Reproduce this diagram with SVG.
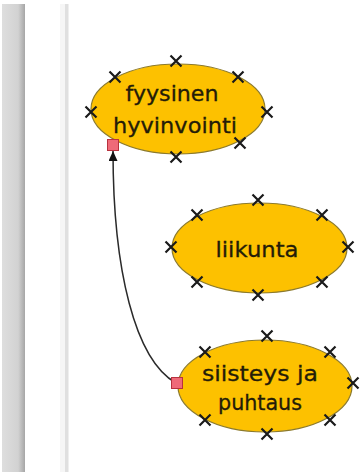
<svg xmlns="http://www.w3.org/2000/svg" width="364" height="472" viewBox="0 0 364 472">
<defs>
<linearGradient id="side" x1="0" y1="0" x2="1" y2="0">
<stop offset="0" stop-color="#dedede"/>
<stop offset="0.7" stop-color="#d2d2d2"/>
<stop offset="1" stop-color="#a6a6a6"/>
</linearGradient>
<marker id="arr" markerWidth="10" markerHeight="11" refX="10" refY="4.5" orient="auto" markerUnits="userSpaceOnUse">
<path d="M0,0 L10,4.5 L0,9 Z" fill="#111"/>
</marker>
<g id="x"><path d="M-5.5,-5.5 L5.5,5.5 M-5.5,5.5 L5.5,-5.5" stroke="#1a1a1a" stroke-width="2.2" fill="none"/></g>
</defs>
<style>
.node ellipse{fill:#fdc100;stroke:#8c7a2c;stroke-width:1.2}
.node text{font-family:"DejaVu Sans",sans-serif;font-size:21px;fill:#241c08;stroke:#241c08;stroke-width:0.3;text-anchor:middle}
.pin{fill:#ef6a78;stroke:#b8323e;stroke-width:1}
.edge{fill:none;stroke:#2a2a2a;stroke-width:1.5}
</style>
<rect width="364" height="472" fill="#ffffff"/>
<rect x="2" y="4" width="23" height="468" fill="url(#side)"/>
<rect x="60" y="4" width="5" height="468" fill="#f6f6f6"/>
<rect x="65" y="4" width="3.5" height="468" fill="#e0e0e0"/>

<g id="connectors">
<path class="edge" d="M176,383 C135,360 113,270 113,151" marker-end="url(#arr)"/>
</g>

<g id="node-fyysinen" class="node">
<ellipse cx="178" cy="109" rx="87" ry="45"/>
<text x="172" y="101" textLength="93" lengthAdjust="spacingAndGlyphs">fyysinen</text>
<text x="175" y="133" textLength="124" lengthAdjust="spacingAndGlyphs">hyvinvointi</text>
<use href="#x" x="176" y="61"/>
<use href="#x" x="115" y="77"/>
<use href="#x" x="238" y="77"/>
<use href="#x" x="91" y="112"/>
<use href="#x" x="267" y="112"/>
<use href="#x" x="240" y="143"/>
<use href="#x" x="176" y="157"/>
<rect class="pin" x="107.5" y="139.5" width="11" height="11"/>
</g>

<g id="node-liikunta" class="node">
<ellipse cx="259.5" cy="248" rx="87.5" ry="45"/>
<text x="257" y="257" textLength="83" lengthAdjust="spacingAndGlyphs">liikunta</text>
<use href="#x" x="258" y="200"/>
<use href="#x" x="197" y="215"/>
<use href="#x" x="322" y="215"/>
<use href="#x" x="171" y="247"/>
<use href="#x" x="348" y="247"/>
<use href="#x" x="197" y="282"/>
<use href="#x" x="322" y="282"/>
<use href="#x" x="258" y="295"/>
</g>

<g id="node-siisteys" class="node">
<ellipse cx="265" cy="386" rx="87" ry="46"/>
<text x="260" y="381" textLength="116" lengthAdjust="spacingAndGlyphs">siisteys ja</text>
<text x="260" y="410" textLength="84" lengthAdjust="spacingAndGlyphs">puhtaus</text>
<use href="#x" x="267" y="336"/>
<use href="#x" x="205" y="352"/>
<use href="#x" x="330" y="352"/>
<use href="#x" x="353" y="383"/>
<use href="#x" x="205" y="420"/>
<use href="#x" x="330" y="420"/>
<use href="#x" x="267" y="434"/>
<rect class="pin" x="171.5" y="377.5" width="11" height="11"/>
</g>
</svg>
